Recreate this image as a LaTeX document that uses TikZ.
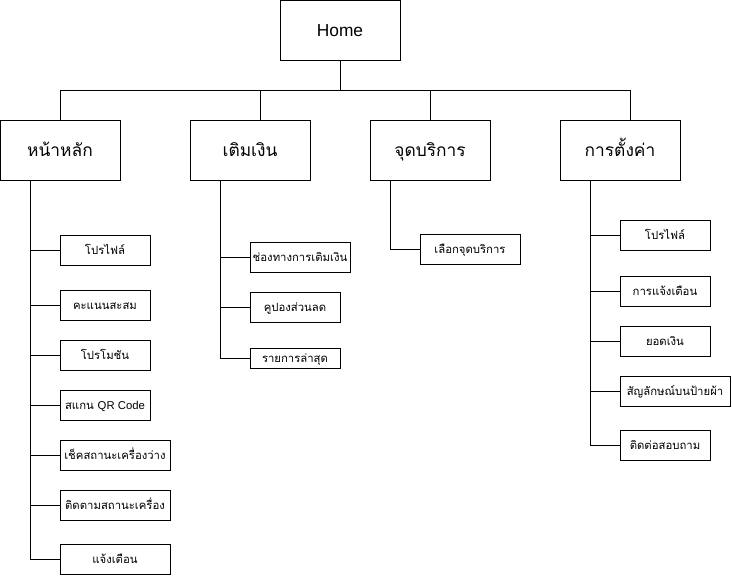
\documentclass[tikz,border=0pt]{standalone}
\usepackage{fontspec}
\setmainfont{Liberation Sans}
\newfontfamily\thaifont[Script=Thai]{Loma}
\usepackage{tikz}

\begin{document}
\begin{tikzpicture}[x=0.75pt,y=-0.75pt,line width=0.75pt,
    topbox/.style={draw,inner sep=0pt,minimum width=90pt,minimum height=45pt,
      text height=10pt,text depth=1pt,
      font=\thaifont\fontsize{13}{15}\selectfont},
    subbox/.style={draw,inner sep=0pt,minimum width=67.5pt,minimum height=22.5pt,
      text height=7pt,text depth=1pt,
      font=\thaifont\fontsize{8.5}{10}\selectfont},
    widebox/.style={subbox,minimum width=82.5pt}]
      \useasboundingbox (0,0) rectangle (732,576);

      % Root
      \node[topbox,font=\fontsize{13}{15}\selectfont] (home) at (340,30) {Home};

      % First level
      \node[topbox] (main) at (60,150) {หน้าหลัก};
      \node[topbox] (topup) at (250,150) {เติมเงิน};
      \node[topbox] (service) at (430,150) {จุดบริการ};
      \node[topbox] (setting) at (620,150) {การตั้งค่า};

      % Bus from root
      \draw (home.south) -- ++(0,30);
      \draw (main.north) -- (60,90) -| ([xshift=7.5pt]setting.north);
      \draw ([xshift=7.5pt]topup.north) -- ++(0,-30);
      \draw (service.north) -- ++(0,-30);

      % Children of main page
      \node[subbox] (main1) at (105,250) {โปรไฟล์};
      \node[subbox] (main2) at (105,305) {คะแนนสะสม};
      \node[subbox] (main3) at (105,355) {โปรโมชัน};
      \node[subbox] (main4) at (105,405) {สแกน {\fontspec{Liberation Sans}QR Code}};
      \node[widebox] (main5) at (115,455) {เช็คสถานะเครื่องว่าง};
      \node[widebox] (main6) at (115,505) {ติดตามสถานะเครื่อง};
      \node[widebox] (main7) at (115,559) {แจ้งเตือน};

      % Children of top-up
      \node[subbox,minimum width=75pt] (topup1) at (300,257) {ช่องทางการเติมเงิน};
      \node[subbox] (topup2) at (295,307) {คูปองส่วนลด};
      \node[subbox,minimum height=15pt] (topup3) at (295,358) {รายการล่าสุด};

      % Children of service point
      \node[subbox,minimum width=75pt] (service1) at (470,249) {เลือกจุดบริการ};

      % Children of settings
      \node[subbox] (set1) at (665,235) {โปรไฟล์};
      \node[subbox] (set2) at (665,291) {การแจ้งเตือน};
      \node[subbox] (set3) at (665,341) {ยอดเงิน};
      \node[widebox] (set4) at (675,391) {สัญลักษณ์บนป้ายผ้า};
      \node[subbox] (set5) at (665,445) {ติดต่อสอบถาม};

      % Trunks
      \coordinate (maintrunk) at ([xshift=-22.5pt]main.south);
      \coordinate (topuptrunk) at ([xshift=-22.5pt]topup.south);
      \coordinate (servicetrunk) at ([xshift=-30pt]service.south);
      \coordinate (settrunk) at ([xshift=-22.5pt]setting.south);

      \foreach \c in {main1,main2,main3,main4,main5,main6,main7}
        \draw (maintrunk) |- (\c.west);
      \foreach \c in {topup1,topup2,topup3}
        \draw (topuptrunk) |- (\c.west);
      \draw (servicetrunk) |- (service1.west);
      \foreach \c in {set1,set2,set3,set4,set5}
        \draw (settrunk) |- (\c.west);

  \end{tikzpicture}
\end{document}
